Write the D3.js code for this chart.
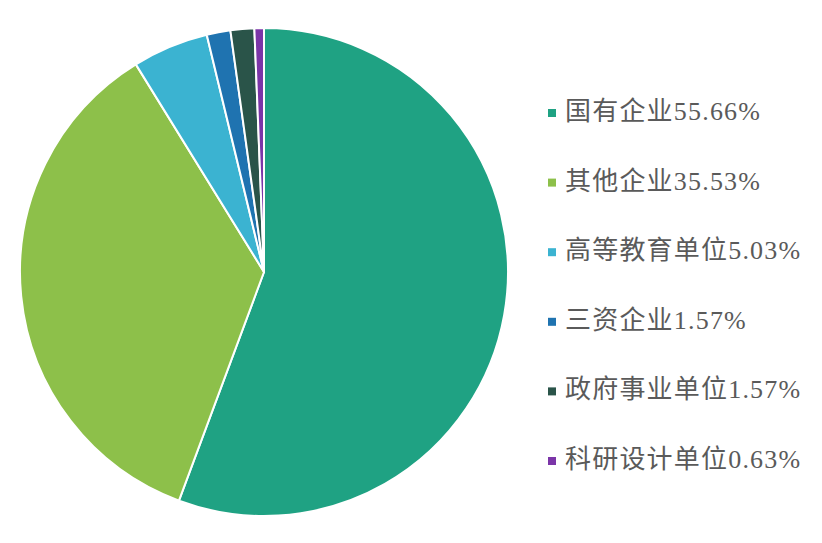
<!DOCTYPE html>
<html><head><meta charset="utf-8">
<script src="https://cdn.jsdelivr.net/npm/d3@7/dist/d3.min.js"></script>
<style>html,body{margin:0;padding:0;background:#fff;}svg{display:block;}</style>
</head><body>
<svg id="chart" width="822" height="543"></svg>
<script>
const categories = ["国有企业", "其他企业", "高等教育单位", "三资企业", "政府事业单位", "科研设计单位"];
const values = [55.66, 35.53, 5.03, 1.57, 1.57, 0.63];
const valueLabels = ["55.66%", "35.53%", "5.03%", "1.57%", "1.57%", "0.63%"];
const colors = ["#1fa283", "#8dc04a", "#3bb3d1", "#1f73b0", "#2a5449", "#7b35a8"];

const svg = d3.select("#chart");
const cx = 264, cy = 272, r = 244;

const pie = d3.pie().sort(null).value(d => d)(values);
const arc = d3.arc().innerRadius(0).outerRadius(r);
const color = d3.scaleOrdinal().domain(categories).range(colors);

svg.append("g").attr("transform", `translate(${cx},${cy})`)
  .selectAll("path").data(pie).join("path")
  .attr("d", arc)
  .attr("fill", (d, i) => color(categories[i]))
  .attr("stroke", "#fff").attr("stroke-width", 2).attr("stroke-linejoin", "round");

const ly = d3.scalePoint().domain(categories).range([111, 459]);
const lg = svg.append("g");
const rows = lg.selectAll("g").data(categories).join("g")
  .attr("transform", d => `translate(548,${ly(d)})`);
rows.append("rect").attr("x", 0).attr("y", -2).attr("width", 8).attr("height", 8)
  .attr("fill", d => color(d));
const t = rows.append("text").attr("x", 17).attr("y", 9)
  .attr("fill", "#5a5a5a").attr("font-size", 26).attr("letter-spacing", 1.2);
t.append("tspan").attr("font-family", "'Noto Sans CJK SC', sans-serif").text(d => d);
t.append("tspan").attr("font-family", "'Liberation Serif', 'DejaVu Serif', serif")
  .text((d, i) => valueLabels[i]);
</script>
</body></html>
